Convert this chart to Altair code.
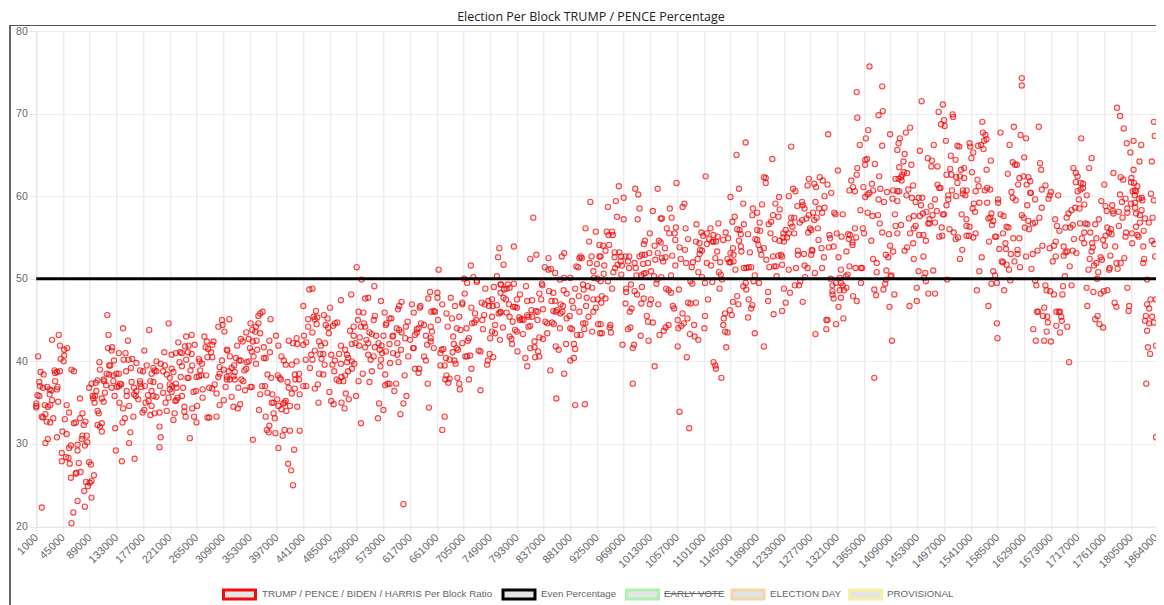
import altair as alt
import pandas as pd

# (block in thousands, percentage)
seg_a = [(4,40.6),(1,34.6),(1,34.4),(1,34.9),(3,35.9),(6,35.8),(6,37.5),(7,37),(12,36.8),(8,38.7),(13,38.4),(10,22.3),(10,33.3),(12,33.2),(16,33.6),(15,34.7),(20,34.5),(24,34.7),(27,35.3),(23,36),(19,36.9),(23,36.6),(26,36.5),(18,32.7),(24,32.6),(29,33.1),(16,30.1),(20,30.6),(27,42.6),(38,43.2),(40,41.9),(47,41.4),(52,41.6),(47,40.7),(41,40.3),(46,40),(31,38.9),(32,38.6),(35,38.7),(40,38.8),(59,39),(63,38.8),(32,37.6),(36,36.9),(35,36.6),(37,35.1),(35,30.8),(44,31.5),(51,31.2),(43,28.9),(43,27.9),(50,28.4),(54,28.3),(56,27.6),(58,29.8),(55,29.5),(48,33),(55,33.8),(51,34.7),(73,35.5),(58,25.9),(67,26.5),(66,26.4),(74,26.6),(71,27.7),(69,29.9),(69,29.2),(63,32.5),(66,32.6),(73,33.1),(77,33.7),(79,32.3),(82,32.7),(76,30.6),(77,31),(84,31),(85,30.2),(81,29.8),(69,23.1),(62,21.7),(59,20.4),(81,22.4),(92,23.5),(80,24.3),(83,25.4),(86,24.9),(89,25.3),(92,25.5),(96,26.2),(88,27.8),(91,27.5),(88,36.8),(92,37.3),(99,37.4),(102,37.7),(100,36.4),(94,35.8),(98,35.8),(95,35.5),(97,35),(109,35.5),(112,35.1),(102,34),(104,33.7),(102,32.3),(106,32.1),(109,32.5),(109,31.5),(105,39.9),(106,39),(113,37.6),(112,37.8),(116,37.1),(114,36.2),(118,45.6),(120,43.2),(119,41.6),(126,41.7),(125,41.3),(129,40.1),(121,39.5),(123,39.5),(117,38.5),(121,38.4),(128,38.3),(128,37.6),(133,38.5),(137,38.5),(125,36.8),(134,36.9),(139,37.3),(141,37.2),(137,37),(130,35.8),(138,35),(131,31.9),(132,29.2),(142,27.9),(144,44),(137,41),(148,41),(152,42.5),(145,40.2),(153,40.2),(159,40.3),(166,39.8),(157,39.2),(149,38.8),(158,37.5),(150,36.4),(150,35.8),(144,34.3),(154,34.6),(147,33.1),(143,32.6),(161,33.3),(156,31.4),(154,30.1),(163,28.2)]
seg_b = [(162,36.8),(166,36.4),(162,36),(165,35.8),(169,35.4),(172,37.3),(174,36.9),(180,37),(172,37.6),(176,33.8),(179,34.1),(179,41.3),(187,43.8),(172,38.9),(177,38.8),(183,39.5),(194,39.2),(199,40),(206,39.7),(212,41.1),(219,44.6),(189,37.6),(194,37.5),(191,38.5),(196,38.9),(199,38.8),(185,35.9),(186,35.2),(191,36.4),(194,35.8),(199,35.7),(205,37),(210,36.2),(210,38.8),(216,38.4),(213,39.5),(189,33.5),(196,33.7),(204,33.8),(191,34.6),(181,35),(204,32.1),(206,30.8),(204,29.6),(216,34),(214,35),(219,35.6),(221,36.6),(221,37.2),(221,38),(224,39.1),(227,38.7),(224,40.8),(231,41),(235,42.3),(238,41.1),(241,41),(246,41.8),(248,43),(257,43.2),(252,41.9),(262,42),(257,40.9),(251,41.1),(248,40.2),(237,39.9),(241,39.4),(239,38.1),(250,38),(252,38),(258,39.5),(255,38.9),(231,37.3),(225,37),(232,36.8),(243,36.8),(224,36.3),(241,35.8),(234,35.6),(230,35.2),(232,35.3),(245,34.5),(245,33.9),(247,33.3),(229,33.7),(227,32.9),(258,34.3),(266,34.6),(254,30.7),(265,32.6),(261,33.3),(260,36.3),(264,36.4),(269,38.2),(273,38.3),(265,38.1),(269,40.3),(270,40),(274,39.7),(271,38.9),(275,36.6),(275,35.6),(281,38.3),(278,43),(282,42.4),(280,41.7),(284,41.5),(283,40.5),(291,40.5),(289,41.1),(293,42.4),(291,42),(283,33.2),(286,33.2),(298,33.3),(286,36.8),(291,36.7),(295,37.2),(298,36.1),(303,34.7),(310,35.3),(301,44.2),(307,45),(308,44.4),(311,43.6),(319,45.1),(307,40.1),(303,39.3),(301,38.1),(303,38.5),(310,39),(315,41.4),(316,41.3),(320,40.6),(330,40.4),(335,40.1),(338,40.1),(348,39.9),(351,40),(318,38.8),(323,39.2),(327,39.5),(315,38.1),(315,37.8),(320,37.8),(328,37.8),(326,38.2),(328,38.7),(313,36.9),(323,35.7),(326,34.5),(333,34.3),(337,34.8),(334,36.8),(332,41.9),(338,42.7),(341,42.4),(347,43.5),(354,44.6),(357,43.8),(363,44.2),(362,43.6),(367,44.6),(370,43.4),(367,45.5),(370,45.8),(374,46),(387,45.1),(351,42.7),(364,42.5),(358,42.4),(353,41.6),(356,41.2),(365,41.4),(359,40.6),(363,39.7),(376,41.7),(385,42.5),(386,41.1),(396,43.1),(400,41.9),(376,40.4),(379,40.4),(344,38.9),(347,39.1),(339,37.8),(342,37.6),(345,36.5),(354,36.9),(356,36.9),(370,36),(373,37),(378,37),(382,38.4),(388,38),(382,36.2),(390,36),(398,35.4),(389,35),(392,35),(400,34.6),(405,34.2),(392,33.7),(394,33.1),(368,34.1),(379,33.3),(385,32.2),(381,31.7),(384,31.4),(395,31.3),(358,30.5),(400,29.5),(407,31),(410,31.7),(419,31.6),(426,29.3),(416,27.6),(421,26.8),(424,25),(399,38.3),(402,38),(404,37.8),(415,37.5),(417,36.8),(427,36.7),(408,34.9),(410,35),(413,34),(412,35.2),(419,34.6),(422,36.1),(431,34.5),(405,40.6),(409,40.1),(412,39.6),(422,39.6),(430,40),(417,42.5),(424,42.2),(431,42.1),(430,42.8),(427,38.4),(434,38.5),(428,37.8),(434,37.8),(435,36),(435,31.6)]
seg_c = [(451,48.7),(456,48.8),(441,46.7),(485,46.5),(503,47.4),(520,48.1),(529,51.4),(537,49.9),(558,49.1),(543,47.6),(548,47.7),(569,47.3),(462,46.1),(449,45.1),(458,45.4),(460,45.1),(464,45.3),(475,45.6),(481,45.2),(463,44.5),(449,44.2),(456,43.5),(442,43.1),(478,44.4),(482,44.1),(490,44.3),(493,44.6),(497,44.7),(483,43.4),(467,42.4),(477,42.2),(470,41.9),(441,42),(446,42.3),(460,41.3),(454,40.8),(469,40.9),(474,40.9),(471,40.3),(476,39.6),(487,40.8),(493,40.1),(500,40.9),(503,41.9),(510,41.4),(513,40.8),(515,40.4),(489,39.6),(503,39.7),(513,39.9),(525,39.7),(521,40),(492,38.8),(521,39.1),(515,38.8),(510,38.3),(504,38.1),(496,37.8),(500,37.6),(507,37.6),(474,38.4),(467,38.5),(452,39.2),(445,40.2),(456,40.2),(465,37.2),(460,36.7),(446,37),(441,37),(484,36.3),(511,36.1),(487,35.2),(491,34.8),(504,35),(509,34.3),(466,35),(516,35.4),(528,35.8),(532,37.6),(539,38.5),(554,38.8),(550,37.5),(536,32.5),(566,34.9),(573,34.1),(564,33.1),(601,33.6),(606,34.9),(611,35.8),(591,36.4),(576,37.1),(583,37.3),(594,37.3),(580,37.3),(576,38.4),(568,39.4),(569,40.2),(584,39.8),(598,39.9),(608,38.3),(625,39.1),(632,39.1),(631,38.6),(646,37.3),(648,34.4),(674,33.3),(670,31.7),(606,22.7),(518,43.7),(524,44.2),(532,46),(540,45.9),(531,45),(536,44.2),(541,44.6),(543,44.2),(557,45),(559,45.5),(575,45.9),(583,45.2),(586,45.2),(578,44.6),(577,44.4),(599,46.7),(597,46.3),(603,47.2),(620,46.9),(623,45.9),(634,46.7),(633,46.5),(647,47.6),(650,48.4),(662,48.3),(662,47.7),(670,46.9),(684,47.7),(691,46.7),(664,51.1),(706,50),(711,49.5),(717,51.6),(721,50.2),(727,49.6),(727,49.8),(707,48.2),(703,47.1),(703,46.9),(718,46.5),(724,45.8),(723,44.7),(726,45),(719,44.6),(710,44),(698,45.4),(677,45.8),(686,45.2),(658,46),(656,46.1),(652,46),(663,45),(651,44.2),(653,43.6),(679,44.2),(688,43),(694,44),(700,43.8),(714,42.8),(712,42.5),(703,42.2),(689,42.1),(694,41.6),(696,41.4),(687,41.1),(672,41.5),(669,41.4),(667,41),(656,41.6),(645,42),(651,42.4),(651,42.8),(643,43.1),(640,44.4),(635,44.6),(628,43.9),(631,44),(625,43.2),(628,43.5),(623,41.6),(617,42.6),(609,42.8),(603,43.5),(610,44.2),(613,44.8),(595,44),(599,43.8),(589,43.1),(588,43),(573,43.1),(561,43.1),(550,43.5),(554,43.3),(545,42.6),(548,42.2),(534,42.9),(524,43.1),(527,42.2),(521,42.1),(533,41.9),(543,41.7),(565,42.2),(559,41.7),(583,42.1),(596,42.2),(570,41.9),(567,41.4),(577,41.2),(571,41),(548,40.8),(557,40.6),(552,40.2),(589,41),(596,40.8),(602,41.4),(614,40.6),(622,41.6),(640,40.6),(643,40.1),(667,39.5),(674,39.5),(676,40.4),(682,40.2),(690,40.1),(692,39.7),(708,40.6),(711,40.6),(716,40.7),(730,41.3),(733,41.2),(748,40.9),(754,40.5),(745,40.1),(744,39.6),(718,39.1),(677,38.3),(675,37.8),(682,37.9),(695,38),(714,37.8),(680,37.4),(698,37.3),(699,36.6),(733,36.5)]
seg_d = [(760,50.3),(764,53.7),(762,52.6),(771,51.7),(788,53.9),(820,57.4),(815,52.4),(825,52.9),(845,52.5),(839,51.4),(845,51.1),(849,51.2),(856,50.7),(867,52.7),(871,53.1),(864,49.9),(871,50.1),(881,50.1),(891,51.5),(894,51.4),(898,52.7),(896,52.5),(900,52.5),(916,52.7),(913,51.9),(925,51.8),(919,50.9),(920,50.1),(926,50),(914,59.3),(906,56.1),(923,55.7),(912,54.5),(929,54.1),(929,52.7),(741,48.8),(755,49),(766,49.3),(778,49.3),(788,49.4),(808,49.1),(834,49.4),(835,49.2),(767,49.3),(776,48.8),(781,48.9),(772,48.7),(766,48.3),(798,48.1),(793,47.5),(771,47.7),(775,47.5),(780,46.9),(752,47.5),(746,47.3),(735,47.1),(740,46.9),(747,46.7),(753,46.7),(760,46.8),(766,46),(763,45.8),(776,45.9),(781,45.4),(787,46.6),(793,46.5),(810,47.3),(818,47.4),(830,48.2),(833,47.5),(846,48.5),(853,48.3),(850,47.3),(856,47.3),(870,48.6),(875,48.2),(889,48.8),(902,49.3),(910,49.1),(917,48.9),(903,48.7),(895,47.9),(908,47.7),(919,47.5),(926,47.5),(884,47.3),(865,46.9),(869,46.7),(886,46.5),(907,46.7),(923,46.5),(919,46),(896,46),(911,45.4),(868,46),(859,46.2),(857,46),(853,46.1),(836,46.3),(817,46.2),(824,46.1),(827,46),(810,45.6),(818,45.4),(827,45),(812,45.4),(801,45.1),(804,45),(797,45.3),(798,45),(786,44.8),(790,46.6),(766,45.9),(752,45.4),(739,45.6),(736,45),(737,43.9),(757,44.4),(770,44.1),(752,43.6),(749,42.8),(757,43.4),(765,42.6),(781,43),(784,42.7),(785,42.1),(793,43.6),(803,43.3),(790,43.8),(812,44.2),(815,44.3),(840,44.8),(843,44.6),(851,44.7),(854,44.5),(843,43.4),(830,42.9),(836,42.7),(822,42.4),(815,41.6),(822,41.7),(828,41.2),(823,40.5),(830,40.6),(807,40.4),(810,39.4),(794,41.2),(848,38.9),(871,38.5),(857,41.8),(862,41.4),(874,42.1),(887,42.1),(889,41.5),(887,40.4),(881,40.1),(858,35.5),(889,34.7),(905,34.8),(864,44),(881,44),(884,43.9),(892,43.2),(898,43.2),(917,43.6),(904,43.9),(902,44.6),(906,44.6),(875,45.2),(880,45.5),(865,45.8),(927,44.5),(930,43.4)]
seg_e = [(961,61.2),(956,59.4),(969,59.8),(943,58.7),(988,60.9),(993,60.2),(1025,60.9),(1056,61.6),(1104,62.4),(1170,66.5),(1155,65),(1245,66),(1214,64.5),(1306,67.5),(1372,68),(1408,67.5),(1368,67),(1358,66.2),(1395,66.1),(1422,66.4),(1420,65.6),(1200,62.3),(1203,62.2),(1203,61.6),(1159,60.9),(1145,59.9),(1383,63.9),(1367,64.4),(1370,64.5),(1367,63.8),(1354,63.4),(1353,62.6),(1390,62.4),(1344,61.9),(1322,63.1),(1274,62.1),(1292,62.3),(1297,61.9),(1283,61.5),(1272,61.3),(1286,61.1),(1305,61.4),(1311,60.4),(1300,60),(1248,60.9),(1252,60.6),(1241,60),(1225,59.9),(1341,60.7),(1347,61.1),(1350,60.6),(1364,61.1),(1378,61.5),(1380,60.7),(1392,60.9),(1403,60.5),(1413,60.7),(1420,60.6),(1423,60.6),(1422,62.1),(1417,62.1),(1423,63.5),(1367,59.9),(1371,60.2),(1374,60.4),(1389,59.6),(1398,59.3),(1412,59.7),(1420,59.4),(1359,58.3),(1371,58),(1379,57.6),(1388,57.7),(1416,57.8),(1391,56.7),(1330,57.8),(1316,58),(1318,57.8),(1285,59.3),(1263,59.3),(1264,58.9),(1267,58.5),(1255,58.8),(1250,57.4),(1245,57.4),(1219,59.1),(1226,58.4),(1224,57.5),(1215,57.7),(1212,56.9),(1208,56.6),(1197,59),(1182,58.5),(1189,58),(1181,57.7),(1166,59.1),(1152,57.5),(1148,56.9),(1193,56.8),(1167,56.6),(1069,59.1),(1066,58.7),(1045,58.5),(995,58.5),(1017,58.2),(958,57.5),(969,57.2),(992,57.2),(1030,57.3),(1032,57.3),(1048,57.4),(1089,56.6),(1125,56.7),(1055,56.2),(1040,56.1),(1071,56.1),(1112,56.1),(941,55.7),(950,55.7),(944,55.3),(951,55.3),(1044,55.5),(1053,55.5),(1012,55.5),(1097,55.6),(1106,55.5),(1100,55.2),(1075,54.8),(1054,54.7),(1117,55.3),(1124,55.1),(1137,55.6),(1133,54.7),(1141,54.9),(1110,54.8),(1115,54.5),(1121,54.5),(1117,54.5),(1088,54.5),(1004,54.6),(1002,54.2),(1027,54.6),(1030,54.4),(1020,54),(1037,53.7),(1061,53.8),(1070,53.5),(1094,54.3),(1106,54.2),(1095,53.5),(1098,53.4),(1094,53),(1123,53.3),(1120,52.5),(1145,53.1),(1149,53.7),(1150,52.9),(1145,52),(1140,52.4),(1143,52),(1150,52.1),(1128,52),(1106,51.9),(1113,51.6),(1091,52.4),(1083,52),(1072,51.9),(1081,51.4),(1063,52.4),(1049,52.8),(1054,51.6),(1038,52.6),(1032,52.5),(1034,52.1),(1025,53.1),(1021,52.3),(1011,53.1),(1004,52.9),(999,52.9),(995,52.7),(1009,51.9),(1001,51.8),(987,51.9),(978,52.7),(976,52.1),(972,52.7),(965,52.7),(962,53.2),(954,53.2),(954,52.6),(964,52.1),(939,53.4),(945,54.1),(935,54),(931,52.7),(937,51.6),(955,51.3),(959,51.7),(966,51.6),(989,51.3),(978,51.3),(952,50.8),(965,50.5),(936,50.6),(990,50.4),(998,50.4),(1005,50.7),(1014,50.9),(1019,50.3),(1031,50.2),(1047,50.4),(1092,50.8),(1098,50.2),(1126,50.8),(1129,50.5),(1153,51.1)]
seg_f = [(1177,53.2),(1163,53.3),(1162,53.9),(1159,54.6),(1162,55.4),(1174,55.4),(1156,56),(1160,55.9),(1189,55.9),(1194,55.8),(1211,55.5),(1189,54.7),(1186,54.8),(1191,54.1),(1194,53.5),(1200,53.7),(1196,52.9),(1204,52.3),(1218,54.8),(1226,54.6),(1233,54.5),(1232,55.5),(1236,55.9),(1241,55.5),(1238,55),(1232,55),(1244,56.7),(1247,56.3),(1250,55.5),(1259,56.8),(1263,57.1),(1270,57.3),(1274,57.7),(1281,58),(1287,57.4),(1291,58.5),(1296,58),(1300,58.6),(1283,57.1),(1273,55.6),(1276,56.1),(1278,55.9),(1289,56.1),(1290,54.7),(1308,55.3),(1309,54.9),(1320,55.5),(1328,55.1),(1339,55.4),(1342,55.3),(1340,54.8),(1346,54.4),(1346,54.1),(1350,56.1),(1352,55),(1363,56.1),(1365,55.5),(1377,54.6),(1395,55.6),(1406,55.4),(1417,56.4),(1420,55.5),(1408,54),(1413,53.3),(1401,52.9),(1405,52.6),(1380,52.4),(1386,51.9),(1386,50.8),(1402,51),(1410,50.4),(1360,51.3),(1362,51.3),(1351,51.3),(1341,51.5),(1327,51.1),(1336,53.3),(1323,52.6),(1307,53.8),(1295,53.7),(1315,53.9),(1299,52.6),(1296,51.3),(1284,50.7),(1279,53.5),(1280,53.4),(1278,52.9),(1266,53),(1256,53.4),(1256,52.9),(1267,51.6),(1272,51.3),(1253,51.3),(1241,51.1),(1230,51.7),(1220,51.5),(1217,51.5),(1209,51.4),(1224,52.8),(1228,52.9),(1230,52.7),(1215,52.7),(1175,51.4),(1167,51.3),(1171,51.3),(1179,51.4),(1185,50.4),(1221,50.3),(1268,50.2),(1310,50),(1335,50.3),(1338,50.5),(1325,50.1),(1409,50.3),(1401,49.9),(1400,49.4),(1360,49.5),(1327,49.5),(1319,49.5),(1313,49.2),(1330,49.2),(1336,48.9),(1332,48.6),(1325,48.6),(1313,48.5),(1313,48.1),(1315,47.6),(1327,47.7),(1347,47.9),(1353,47.3),(1323,46.6),(1331,45.2),(1319,44.5),(1303,45),(1305,45),(1303,43.9),(1285,43.3),(1264,47.2),(1251,49.2),(1258,49.2),(1260,49.7),(1243,48.3),(1233,48.8),(1236,47.1),(1230,46.1),(1216,45.7),(1207,48.4),(1207,47.3),(1192,49.5),(1183,49.7),(1170,49.5),(1166,49.1),(1171,48.7),(1175,47.5),(1181,46.8),(1179,46.4),(1174,45.3),(1185,43.4),(1200,41.8),(1156,47.9),(1158,46.9),(1149,47.2),(1144,46.2),(1147,45.6),(1136,45.8),(1134,45.2),(1133,44.4),(1136,43.6),(1140,43.5),(1138,41.7),(1127,48.8),(1131,49.9),(1115,49.6),(1103,49.5),(1082,49.4),(1079,49.7),(1060,48.7),(1108,47.5),(1088,47.1),(1079,47),(1075,47.1),(1050,46.7),(1052,46.4),(1026,46.9),(1014,47.5),(1012,46.9),(998,47),(1002,47.6),(972,47),(982,46.4),(979,46),(1007,45.5),(1009,44.8),(1017,44.7),(1043,44.4),(1066,45.8),(1074,45.2),(1058,45),(1068,44.6),(1064,44.3),(1059,44),(1038,44.1),(1035,43.7),(1028,43.2),(1010,42.5),(997,43.1),(976,43.9),(980,44.1),(948,43.5),(947,44.4),(933,43.4),(931,44.5),(946,44.1),(967,42),(984,41.6),(986,42),(1058,41.8),(1078,43.3),(1086,43),(1092,42.6),(1102,44),(1085,44.4),(1103,45.5),(1073,40.5),(1020,39.4),(984,37.3),(1061,33.9),(1077,31.9),(1117,39.9),(1120,39.5),(1121,39.1),(1130,38),(1382,38),(1411,42.5),(1407,46.6),(1415,48.1),(1385,48),(1382,48.7),(1397,48.7),(950,48.8),(973,48.8),(973,48.4),(981,49.3),(987,48.5),(991,48.1),(999,49),(939,47.6),(933,47.9),(932,47.1),(943,49.7),(931,49.7),(1023,49.4),(1039,48.8),(1043,48.6),(1047,48.3),(1002,50.6),(1024,49.9),(1353,72.6),(1354,69.5)]
seg_g = [(1374,75.7),(1395,73.3),(1460,71.5),(1495,71.1),(1488,70.2),(1511,69.9),(1512,69.6),(1497,69.2),(1492,68.7),(1498,68.5),(1560,69),(1625,74.3),(1625,73.4),(1782,70.7),(1787,69.7),(1793,68.2),(1859,69),(1861,67.3),(1798,66.4),(1811,66.7),(1829,66.2),(1804,65.3),(1825,64.2),(1854,64.2),(1811,63.2),(1389,69.8),(1396,70.3),(1441,68.3),(1434,67.7),(1424,67),(1457,65.5),(1432,65.1),(1480,66.2),(1500,66.7),(1519,66.1),(1522,66),(1539,66.4),(1540,66),(1553,66.1),(1558,66.2),(1545,65.3),(1542,64.6),(1562,65.7),(1561,67.7),(1565,67.4),(1567,66.9),(1563,66.7),(1590,67.7),(1612,68.4),(1623,67.4),(1632,67),(1605,66.2),(1653,68.4),(1723,67),(1508,64.9),(1516,64.4),(1470,64.6),(1477,64.3),(1476,63.6),(1486,63.6),(1443,63.8),(1430,64.2),(1574,64.3),(1610,64.1),(1614,63.8),(1617,63.8),(1629,64.7),(1655,64),(1657,63.2),(1710,63.4),(1714,62.8),(1717,62.4),(1740,64.6),(1736,63.4),(1776,62.8),(1788,62.3),(1792,62),(1806,62.2),(1805,61.7),(1507,63.3),(1525,63.2),(1530,63.4),(1543,62.9),(1567,63.2),(1501,62.6),(1509,62.6),(1517,62.3),(1523,62.4),(1530,62.2),(1519,61.6),(1552,62),(1602,62.7),(1621,62.2),(1628,62.4),(1636,62.3),(1619,61.4),(1633,61.4),(1639,61.8),(1714,61.7),(1722,61.6),(1726,61.5),(1717,60.6),(1722,60.8),(1726,61),(1761,61.4),(1436,62.8),(1431,62.9),(1428,62.6),(1426,62.3),(1427,61.9),(1486,61.4),(1489,61),(1491,61),(1446,61.3),(1438,60.8),(1435,60.1),(1444,59.8),(1450,59.3),(1455,59.8),(1461,59.8),(1459,58.9),(1482,59.6),(1504,60.1),(1504,59.6),(1501,58.9),(1510,60.7),(1517,60),(1528,60.7),(1534,60.7),(1528,60.3),(1532,60.1),(1549,60.6),(1554,61.2),(1564,60.7),(1568,61),(1573,60.8),(1546,59.1),(1555,59.2),(1568,59.2),(1586,59.6),(1586,59.2),(1608,60.5),(1610,59.8),(1615,59.5),(1639,60.4),(1640,60.4),(1647,59.6),(1658,60.8),(1664,61.3),(1673,60.5),(1669,59.7),(1671,60.1),(1685,60.1),(1634,58.9),(1658,58.6),(1732,60.1),(1756,59.4),(1719,59.6),(1728,59),(1720,58.5),(1713,58.6),(1707,58.3),(1702,57.9),(1699,57.4),(1763,58.8),(1774,58.9),(1765,58.2),(1775,58.2),(1776,57.9),(1787,60.2),(1796,59.7),(1790,59.3),(1805,59.1),(1814,60.7),(1820,61.2),(1812,61.6),(1809,60.6),(1817,60.6),(1814,60.1),(1824,59.7),(1830,59.8),(1832,59.5),(1814,59.2),(1815,58.6),(1830,58.3),(1817,57.9),(1826,57.7),(1799,58.5),(1799,58),(1785,58.1),(1791,57.4),(1852,60.3),(1859,59.5),(1856,57.4),(1838,57.3),(1847,56.8),(1826,56.8),(1817,56.3),(1835,55.8),(1820,55.3),(1823,55.1),(1854,54.6),(1860,54.2),(1862,52.7),(1834,53.9),(1808,54.3),(1807,55.5),(1797,55.6),(1796,55.1),(1785,56.4),(1772,56),(1769,55.6),(1766,56.2),(1763,55.2),(1773,55.4),(1759,54.7),(1762,54),(1748,54.9),(1752,57.2),(1746,56.6),(1730,56.7),(1733,56.6),(1721,56.7),(1709,56.5),(1705,56.2),(1697,56.2),(1687,55.8),(1683,56.4),(1680,57.2),(1728,55.6),(1738,55.6),(1724,54.9),(1711,54.8),(1728,54.3),(1741,54.3),(1742,53.8),(1740,53.3),(1715,53.1),(1709,53.4),(1700,53.3),(1697,53.2),(1694,53.9),(1694,52.8),(1681,54.5),(1678,54),(1671,53.7),(1659,54),(1651,53.4),(1643,53),(1632,52.7),(1681,52.7),(1676,52.1),(1622,51.4),(1641,51.2),(1613,52.1),(1618,53.5),(1618,53),(1607,53),(1599,53.6),(1598,54.3),(1588,53.6),(1611,54.9),(1621,54.9),(1594,55.5),(1600,56.3),(1603,56.2),(1581,55.1),(1583,55.1),(1571,54.5),(1559,52.6),(1523,52.4),(1527,53.5),(1555,50.9),(1578,50.9),(1581,50.4),(1575,49.4),(1584,49.5),(1606,49.8),(1596,48.6),(1592,52.1),(1594,52),(1600,51.7),(1604,51.1),(1551,48.6),(1570,46.7),(1584,44.6),(1585,42.8)]
seg_h = [(1502,49.9),(1479,51),(1466,50.7),(1455,50.9),(1467,49.7),(1464,50.1),(1452,48.9),(1471,48.2),(1482,48.2),(1452,47.3),(1440,46.7),(1432,53.4),(1436,53.8),(1446,54.3),(1447,52.4),(1463,52.7),(1467,54.6),(1463,55.3),(1456,55.3),(1441,55.5),(1426,56.5),(1439,57.3),(1447,57.6),(1457,57.6),(1462,57.9),(1468,58.1),(1475,58.8),(1485,58.2),(1478,57.7),(1473,57.2),(1471,56.7),(1473,56.7),(1482,56.8),(1495,57.8),(1497,57.8),(1493,56.2),(1506,56),(1513,55.6),(1520,55),(1516,54.8),(1494,55.2),(1489,55.1),(1450,56.4),(1447,56.1),(1526,57.8),(1534,57.2),(1534,56.4),(1539,56.3),(1534,55.2),(1538,55.2),(1549,55.5),(1545,55),(1544,58.5),(1548,58.1),(1570,57.3),(1575,57.9),(1573,57.4),(1578,57),(1576,56.5),(1590,57.8),(1595,57.6),(1625,57.7),(1628,57.4),(1636,57),(1630,56.2),(1637,56),(1643,56.7),(1647,56.8),(1654,57.4),(1749,50),(1751,50.8),(1744,51.6),(1748,51.9),(1755,52.6),(1757,52.3),(1769,51.1),(1770,51.3),(1781,51.9),(1788,51.9),(1794,52.5),(1771,52.8),(1779,53.9),(1783,51.2),(1735,51.1),(1737,52.4),(1696,50.3),(1704,51.5),(1843,49.9),(1836,52.4),(1834,51.9),(1799,48.9),(1732,48.9),(1743,48.4),(1755,48.2),(1760,48.5),(1766,48.6),(1733,46.7),(1778,47.1),(1781,46.6),(1802,46.7),(1801,46.1),(1746,45.1),(1750,45.5),(1753,44.5),(1759,44.1),(1703,39.9),(1707,49.2),(1693,49.1),(1692,48.1),(1678,48.1),(1672,48.5),(1666,48.6),(1664,49.2),(1649,49.2),(1647,49.8),(1662,46.5),(1652,46),(1650,46),(1660,45.5),(1667,45.4),(1668,44.7),(1644,43.9),(1666,43.6),(1648,42.5),(1662,42.5),(1673,42.4),(1682,46),(1686,46),(1688,46),(1690,45.4),(1691,44.9),(1682,44.3),(1688,43.5),(1700,44.2),(1851,47.5),(1843,46.9),(1848,46.4),(1864,47.5),(1840,45.5),(1855,45.4),(1838,44.9),(1848,44.6),(1859,44.7),(1843,43.7),(1845,41.7),(1850,40.9),(1864,41.9),(1841,37.3),(1864,30.8)]

even_blocks = [1000, 1864000]
even_values = [50, 50]
tick_blocks = [1000 + 44000 * i for i in range(42)] + [1864000]
y_ticks = [20, 30, 40, 50, 60, 70, 80]
legend_names = ["TRUMP / PENCE / BIDEN / HARRIS Per Block Ratio", "Even Percentage", "EARLY VOTE", "ELECTION DAY", "PROVISIONAL"]
legend_strokes = ["#f20d0d", "#000000", "#aef0ae", "#f5d6a6", "#f4f0a4"]

FONT = "Liberation Sans"
GREY = "#666666"
GRID = "#e4e4e4"
# Page pixels of the drawing's furniture, relative to the plot origin
OX, OY = 28.3 + 8, 23 + 8
box_left = [223.5, 503, 626.5, 732, 849.5]
box_w = 32
text_left = [262, 541, 664, 770, 887]

pairs = seg_a + seg_b + seg_c + seg_d + seg_e + seg_f + seg_g + seg_h
df = pd.DataFrame({"block": [p[0] * 1000 for p in pairs], "pct": [p[1] for p in pairs]})
even = pd.DataFrame({"block": even_blocks, "pct": even_values})
legend = pd.DataFrame({"name": legend_names, "stroke": legend_strokes,
                       "bx": [b - OX for b in box_left], "bx2": [b + box_w - OX for b in box_left],
                       "tx": [t - OX for t in text_left]})

# The page holds the drawing to 1148 px wide, so the last stretch of the axis ends at that edge.
xs = alt.Scale(domain=[1000, 1805000, 1864000], range=[0, 1094.7, 1119.7], nice=False, zero=False)
ys = alt.Scale(domain=[20, 80], nice=False, zero=False)
xenc = alt.X("block:Q", scale=xs, title=None,
             axis=alt.Axis(values=tick_blocks, tickCount=100, format="d", labelAngle=-45, labelAlign="right", labelBaseline="middle",
                           labelOverlap=False, labelFont=FONT, labelFontSize=11, labelColor=GREY, labelPadding=2,
                           tickSize=7, tickColor=GRID, domainColor=GRID, gridColor=GRID, grid=True, labelFlush=False))
yenc = alt.Y("pct:Q", scale=ys, title=None,
             axis=alt.Axis(values=y_ticks, labelFont=FONT, labelFontSize=10.5, labelColor=GREY, labelPadding=2,
                           tickSize=7, tickColor=GRID, domainColor=GRID, gridColor="#eeeeee", grid=True))

points = alt.Chart(df).mark_point(filled=False, fill="#000000", fillOpacity=0.08, stroke="#ff0000", strokeOpacity=0.72,
                                  strokeWidth=1.1, size=28, shape="circle", clip=False).encode(x=xenc, y=yenc)
line = alt.Chart(even).mark_line(color="#000000", strokeWidth=3).encode(x=alt.X("block:Q", scale=xs), y=alt.Y("pct:Q", scale=ys))
left_rule = alt.Chart(even.head(1)).mark_rule(color="#333333", strokeWidth=1.5).encode(
    x=alt.value(10 - OX), y=alt.value(25 - OY), y2=alt.value(605 - OY))
top_rule = alt.Chart(even.head(1)).mark_rule(color="#555555", strokeWidth=1.2).encode(
    x=alt.value(10 - OX), x2=alt.value(1156 - OX), y=alt.value(25.5 - OY))
boxes = alt.Chart(legend).mark_rect(fill="#e4e4e4", strokeWidth=3).encode(
    x=alt.X("bx:Q", scale=None), x2="bx2:Q", y=alt.value(590 - OY), y2=alt.value(599 - OY),
    stroke=alt.Stroke("stroke:N", scale=None))
labels = alt.Chart(legend).mark_text(align="left", baseline="middle", font=FONT, fontSize=9.8, color=GREY).encode(
    x=alt.X("tx:Q", scale=None), y=alt.value(593.5 - OY), text="name:N")
strike = alt.Chart(legend.iloc[[2]]).mark_rule(color=GREY, strokeWidth=1).encode(
    x=alt.X("tx:Q", scale=None), x2=alt.value(722.5 - OX), y=alt.value(593.5 - OY))

chart = alt.layer(points, line, left_rule, top_rule, boxes, labels, strike).properties(
    width=1119.7, height=495.5,
    padding={"left": 28.3, "top": 23, "right": 0, "bottom": 78.5},
    autosize=alt.AutoSizeParams(type="none"),
    title=alt.TitleParams("Election Per Block TRUMP / PENCE Percentage", anchor="middle", dx=-5.2, offset=1,
                          font="Open Sans", fontSize=12.5, fontWeight="normal", color="#222222"),
).configure_view(stroke=None).configure_axis(labelFontWeight="normal")

chart.save("out.html", embed_options={"renderer": "svg", "actions": False})
